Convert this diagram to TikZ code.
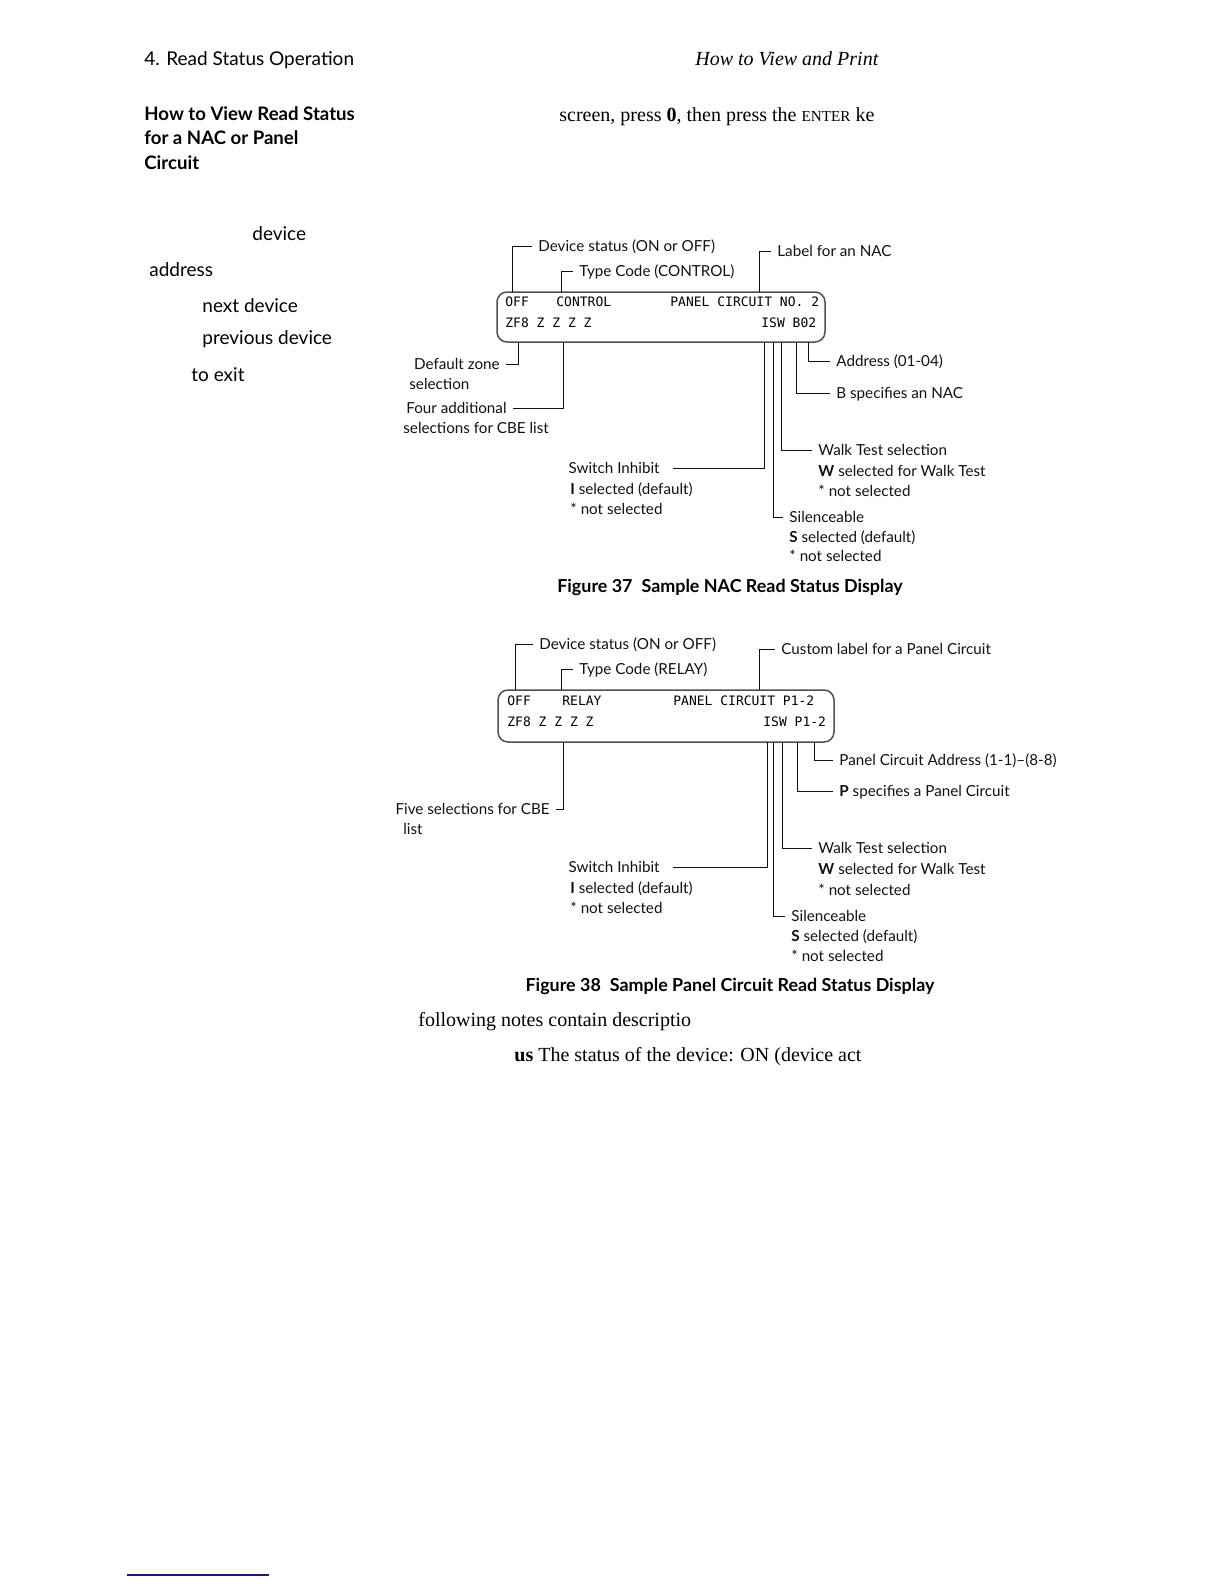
\documentclass[tikz,border=0pt]{standalone}
\usepackage{fontspec}
\setmainfont{Liberation Serif}
\newfontfamily\optfont[Ligatures=TeX]{Lato}
\newfontfamily\lcdfont{DejaVu Sans Mono}
\usetikzlibrary{positioning,calc}
\definecolor{ink}{HTML}{111111}
\definecolor{rim}{HTML}{505050}
\definecolor{rulecol}{HTML}{1A1A7A}

\begin{document}
\begin{tikzpicture}[x=0.5pt,y=-0.5pt]
  \tikzset{
    lbl/.style={inner xsep=3pt,inner ysep=0pt,text height=5.4pt,text depth=0pt,text=ink,font=\optfont\fontsize{7.6}{10}\selectfont},
    lcd/.style={inner sep=0pt,text height=4.7pt,text depth=0pt,anchor=west,font=\lcdfont\fontsize{6.5}{8}\selectfont},
    screen/.style={draw=rim,line width=0.75pt,rounded corners=5pt},
    lead/.style={draw=ink,line width=0.5pt},
    body/.style={inner sep=0pt,text height=6.8pt,text depth=0pt,anchor=west,font=\optfont\fontsize{9.5}{12}\selectfont},
    side/.style={body,font=\optfont\bfseries\fontsize{9.3}{12}\selectfont},
    serif/.style={inner sep=0pt,text height=6.6pt,text depth=0pt,anchor=west,font=\fontsize{10}{12}\selectfont},
    caption/.style={inner sep=0pt,font=\optfont\bfseries\fontsize{8.95}{10}\selectfont}
  }
  \useasboundingbox (0,0) rectangle (1224,1584);

  % running head and margin text
  \node[body] (runhead) at (144,59) {4. Read Status Operation};
  \node[serif,font=\itshape\fontsize{10}{12}\selectfont] (runtitle) at (695,59) {How to View and Print};
  \node[side] (side1) at (144,114) {How to View Read Status};
  \node[side] (side2) at (144,138) {for a NAC or Panel};
  \node[side] (side3) at (144,163) {Circuit};
  \node[serif] (press) at (559,115) {screen, press \textbf{0}, then press the {\fontsize{7.6}{9}\selectfont ENTER} ke};
  \node[body] (wdev) at (252,234) {device};
  \node[body] (waddr) at (149,270) {address};
  \node[body] (wnext) at (202,306) {next device};
  \node[body] (wprev) at (202,338) {previous device};
  \node[body] (wexit) at (191,375) {to exit};

  % Figure 37: NAC display
  \node[screen,minimum width=164pt,minimum height=25pt] (nacscr) at (661,317) {};
  \node[lcd] (nacoff) at (505,302) {OFF};
  \node[lcd] (nactype) at (556,302) {CONTROL};
  \node[lcd] (naclabel) at (670,302) {PANEL CIRCUIT NO. 2};
  \node[lcd] (naczone) at (505,323) {ZF8 Z Z Z Z};
  \node[lcd] (nacisw) at (761,323) {ISW B02};

  \node[lbl,anchor=west] (nacdev) at (532,246) {Device status (ON or OFF)};
  \node[lbl,anchor=west] (nactc) at (573,271) {Type Code (CONTROL)};
  \node[lbl,anchor=west] (nacname) at (771,251) {Label for an NAC};
  \node[lbl,anchor=east] (nacdz) at (506,364) {Default zone};
  \node[lbl,anchor=west] (nacdzb) at (403,384) {selection};
  \node[lbl,anchor=east] (nacfour) at (513,408) {Four additional};
  \node[lbl,anchor=west] (nacfourb) at (397,428) {selections for CBE list};
  \node[lbl,anchor=west] (nacaddr) at (830,361) {Address (01-04)};
  \node[lbl,anchor=west] (nacb) at (830,393) {B specifies an NAC};
  \node[lbl,anchor=west] (nacwalk) at (812,450) {Walk Test selection};
  \node[lbl,anchor=west] (nacwalkb) at (812,471) {\textbf{W} selected for Walk Test};
  \node[lbl,anchor=west] (nacwalkc) at (812,491) {* not selected};
  \node[lbl,anchor=west] (nacsil) at (783,517) {Silenceable};
  \node[lbl,anchor=west] (nacsilb) at (783,537) {\textbf{S} selected (default)};
  \node[lbl,anchor=west] (nacsilc) at (783,556) {* not selected};
  \node[lbl,anchor=east,inner xsep=6.5pt] (nacinh) at (673,468) {Switch Inhibit};
  \node[lbl,anchor=west] (nacinhb) at (564,489) {\textbf{I} selected (default)};
  \node[lbl,anchor=west] (nacinhc) at (564,509) {* not selected};

  \coordinate (nacpoff) at (512,292);
  \coordinate (nacptype) at (561,292);
  \coordinate (nacplabel) at (759,292);
  \coordinate (nacpzf) at (518,342);
  \coordinate (nacpz) at (563,342);
  \coordinate (nacpi) at (764,342);
  \coordinate (nacps) at (773,342);
  \coordinate (nacpw) at (781,342);
  \coordinate (nacpb) at (796,342);
  \coordinate (nacpaddr) at (808,342);
  \draw[lead] (nacpoff) |- (nacdev.west);
  \draw[lead] (nacptype) |- (nactc.west);
  \draw[lead] (nacplabel) |- (nacname.west);
  \draw[lead] (nacpzf) |- (nacdz.east);
  \draw[lead] (nacpz) |- (nacfour.east);
  \draw[lead] (nacpaddr) |- (nacaddr.west);
  \draw[lead] (nacpb) |- (nacb.west);
  \draw[lead] (nacpw) |- (nacwalk.west);
  \draw[lead] (nacps) |- (nacsil.west);
  \draw[lead] (nacpi) |- (nacinh.east);

  \node[caption] (cap37) at (730,587) {Figure 37\enspace Sample NAC Read Status Display};

  % Figure 38: panel circuit display
  \node[screen,minimum width=168pt,minimum height=26pt] (pcscr) at (666,716) {};
  \node[lcd] (pcoff) at (507,701) {OFF};
  \node[lcd] (pctype) at (562,701) {RELAY};
  \node[lcd] (pclabel) at (673,701) {PANEL CIRCUIT P1-2};
  \node[lcd] (pczone) at (507,722) {ZF8 Z Z Z Z};
  \node[lcd] (pcisw) at (763,722) {ISW P1-2};

  \node[lbl,anchor=west] (pcdev) at (533,644) {Device status (ON or OFF)};
  \node[lbl,anchor=west] (pctc) at (573,669) {Type Code (RELAY)};
  \node[lbl,anchor=west] (pcname) at (775,649) {Custom label for a Panel Circuit};
  \node[lbl,anchor=east] (pcfive) at (556,809) {Five selections for CBE};
  \node[lbl,anchor=west] (pcfiveb) at (397,829) {list};
  \node[lbl,anchor=west] (pcaddr) at (833,760) {Panel Circuit Address (1-1)–(8-8)};
  \node[lbl,anchor=west] (pcp) at (833,791) {\textbf{P} specifies a Panel Circuit};
  \node[lbl,anchor=west] (pcwalk) at (812,848) {Walk Test selection};
  \node[lbl,anchor=west] (pcwalkb) at (812,869) {\textbf{W} selected for Walk Test};
  \node[lbl,anchor=west] (pcwalkc) at (812,890) {* not selected};
  \node[lbl,anchor=west] (pcsil) at (785,916) {Silenceable};
  \node[lbl,anchor=west] (pcsilb) at (785,936) {\textbf{S} selected (default)};
  \node[lbl,anchor=west] (pcsilc) at (785,956) {* not selected};
  \node[lbl,anchor=east,inner xsep=6.5pt] (pcinh) at (673,867) {Switch Inhibit};
  \node[lbl,anchor=west] (pcinhb) at (564,888) {\textbf{I} selected (default)};
  \node[lbl,anchor=west] (pcinhc) at (564,908) {* not selected};

  \coordinate (pcpoff) at (515,690);
  \coordinate (pcptype) at (561,690);
  \coordinate (pcplabel) at (759,690);
  \coordinate (pcpz) at (563,742);
  \coordinate (pcpi) at (767,742);
  \coordinate (pcps) at (773,742);
  \coordinate (pcpw) at (782,742);
  \coordinate (pcpp) at (797,742);
  \coordinate (pcpaddr) at (814,742);
  \draw[lead] (pcpoff) |- (pcdev.west);
  \draw[lead] (pcptype) |- (pctc.west);
  \draw[lead] (pcplabel) |- (pcname.west);
  \draw[lead] (pcpz) |- (pcfive.east);
  \draw[lead] (pcpaddr) |- (pcaddr.west);
  \draw[lead] (pcpp) |- (pcp.west);
  \draw[lead] (pcpw) |- (pcwalk.west);
  \draw[lead] (pcps) |- (pcsil.west);
  \draw[lead] (pcpi) |- (pcinh.east);

  \node[caption] (cap38) at (730,986) {Figure 38\enspace Sample Panel Circuit Read Status Display};

  % body text after the figures
  \node[serif] (notes) at (418,1020) {following notes contain descriptio};
  \node[serif] (status) at (514,1055) {\textbf{us} The status of the device: ON (device act};

  % footnote rule
  \coordinate (rulea) at (127,1575);
  \coordinate (ruleb) at (269,1575);
  \draw[rulecol,line width=0.8pt] (rulea) -- (ruleb);
\end{tikzpicture}
\end{document}
